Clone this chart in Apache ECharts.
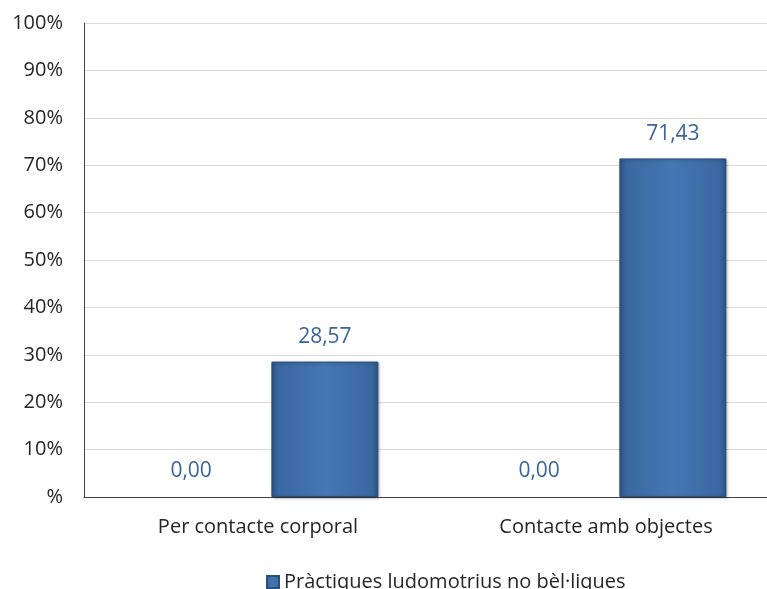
<!DOCTYPE html>
<html><head><meta charset="utf-8">
<script src="https://cdn.jsdelivr.net/npm/echarts@6/dist/echarts.min.js"></script>
<style>html,body{margin:0;padding:0;background:#fff;overflow:hidden}#c{width:800px;height:589px}</style>
</head><body><div id="c"></div>
<script>
const categories = ['Per contacte corporal', 'Contacte amb objectes'];
const seriesZeroName = 'Pràctiques bèl·liques';
const seriesZero = [0, 0];
const seriesMainName = 'Pràctiques ludomotrius no bèl·liques';
const seriesMain = [28.57, 71.43];
const yTicks = [0, 10, 20, 30, 40, 50, 60, 70, 80, 90, 100];

const font = 'Open Sans';
const labelColor = '#3b6497';
const barFill = new echarts.graphic.LinearGradient(0, 0, 1, 0, [
  {offset: 0, color: '#2f5686'},
  {offset: 0.06, color: '#3a67a0'},
  {offset: 0.5, color: '#4577b4'},
  {offset: 0.94, color: '#3a67a0'},
  {offset: 1, color: '#2c5181'}
]);
const fmt = p => p.value.toFixed(2).replace('.', ',');

const chart = echarts.init(document.getElementById('c'));
chart.setOption({
  animation: false,
  textStyle: {fontFamily: font},
  grid: {left: 84, top: 23, width: 696, height: 474, containLabel: false},
  legend: {
    data: [seriesMainName],
    left: 261, top: 567,
    itemWidth: 12, itemHeight: 12, itemGap: 8,
    icon: 'rect',
    textStyle: {fontSize: 20, color: '#262626', fontFamily: font}
  },
  xAxis: {
    type: 'category', data: categories,
    axisLine: {lineStyle: {color: '#404040', width: 1}},
    axisTick: {show: false},
    axisLabel: {fontSize: 20, color: '#262626', margin: 20}
  },
  yAxis: {
    type: 'value', min: 0, max: 100, interval: 10,
    axisLine: {show: true, lineStyle: {color: '#404040', width: 1}},
    axisTick: {show: false},
    splitLine: {lineStyle: {color: '#d9d9d9'}},
    axisLabel: {fontSize: 20, color: '#262626', margin: 21,
      formatter: v => yTicks.includes(v) ? (v === 0 ? '%' : v + '%') : ''}
  },
  series: [
    {
      name: seriesZeroName, type: 'bar', data: seriesZero,
      barWidth: 107, barGap: '25%',
      itemStyle: {color: barFill},
      label: {show: true, position: 'top', distance: 15, fontSize: 21, color: labelColor, formatter: fmt}
    },
    {
      name: seriesMainName, type: 'bar', data: seriesMain,
      barWidth: 107, barGap: '25%',
      itemStyle: {color: barFill, borderColor: '#2c4f7c', borderWidth: 1,
        shadowColor: 'rgba(0,0,0,0.3)', shadowBlur: 3, shadowOffsetX: 1, shadowOffsetY: 1},
      label: {show: true, position: 'top', distance: 14, fontSize: 21, color: labelColor, formatter: fmt}
    }
  ]
});
</script></body></html>
